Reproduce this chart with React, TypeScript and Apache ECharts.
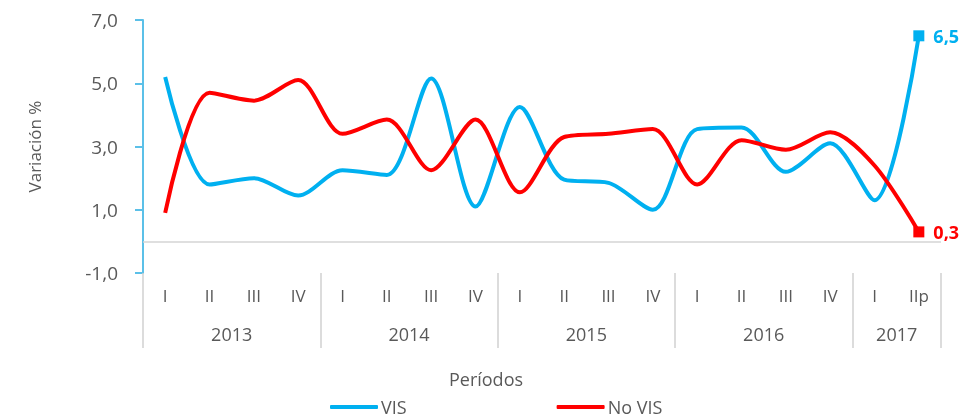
import React, { useEffect, useRef } from "react";
import * as echarts from "echarts";

const quarters = ["I", "II", "III", "IV", "I", "II", "III", "IV", "I", "II", "III", "IV", "I", "II", "III", "IV", "I", "IIp"];
const years = ["2013", "2014", "2015", "2016", "2017"];
const quartersPerYear = [4, 4, 4, 4, 2];
const yTicks = [-1, 1, 3, 5, 7];
const visValues = [5.2, 1.8, 2.0, 1.45, 2.25, 2.1, 5.15, 1.1, 4.25, 1.95, 1.85, 1.0, 3.55, 3.6, 2.2, 3.1, 1.3, 6.5];
const noVisValues = [0.9, 4.7, 4.45, 5.1, 3.4, 3.85, 2.25, 3.85, 1.55, 3.3, 3.4, 3.55, 1.8, 3.2, 2.9, 3.45, 2.4, 0.3];

const FONT = "Open Sans";
const TEXT = "#595959";
const BLUE = "#00B0F0";
const RED = "#FF0000";

function fmt(v: number) {
  return v.toFixed(1).replace(".", ",");
}

function withEndMarker(values: number[], color: string) {
  return values.map((v, i) =>
    i === values.length - 1
      ? {
          value: v,
          symbol: "rect",
          symbolSize: 11,
          itemStyle: { color },
          label: {
            show: true,
            position: "right",
            distance: 9,
            formatter: () => fmt(v),
            color,
            fontFamily: FONT,
            fontWeight: "bold",
            fontSize: 18,
          },
        }
      : v
  );
}

export default function App() {
  const ref = useRef<HTMLDivElement>(null);
  useEffect(() => {
    if (!ref.current) return;
    const chart = echarts.init(ref.current, null, { renderer: "svg" });
    const bounds: number[] = [0];
    const centers: number[] = [];
    quartersPerYear.forEach((n) => {
      const start = bounds[bounds.length - 1];
      centers.push(start + n / 2);
      bounds.push(start + n);
    });
    const total = bounds[bounds.length - 1];
    chart.setOption({
      animation: false,
      textStyle: { fontFamily: FONT },
      grid: { left: 143, right: 28, top: 20, bottom: 146, containLabel: false },
      graphic: [
        {
          type: "text",
          x: 486,
          y: 379,
          style: {
            text: "Períodos",
            fill: TEXT,
            font: `18px "${FONT}"`,
            align: "center",
            verticalAlign: "middle",
          },
        },
      ],
      legend: {
        left: 330,
        top: 398,
        padding: 0,
        itemWidth: 48,
        itemHeight: 4,
        itemGap: 150,
        icon: "roundRect",
        textStyle: { color: TEXT, fontSize: 18, lineHeight: 18, fontFamily: FONT, padding: [0, 0, 0, -2] },
        data: ["VIS", "No VIS"],
      },
      xAxis: [
        {
          type: "category",
          data: quarters,
          boundaryGap: true,
          axisLine: { show: false },
          axisTick: { show: false },
          axisLabel: { color: TEXT, fontSize: 17, fontFamily: FONT, margin: 14, interval: 0 },
          splitLine: { show: false },
        },
        {
          type: "value",
          min: 0,
          max: total,
          position: "bottom",
          axisLine: { show: false },
          splitLine: { show: false },
          axisTick: {
            show: true,
            length: 75,
            customValues: bounds,
            lineStyle: { color: "#d0d0d0", width: 1.5 },
          },
          axisLabel: {
            show: true,
            customValues: centers,
            margin: 52,
            color: TEXT,
            fontSize: 18,
            fontFamily: FONT,
            formatter: (v: number) => {
              const idx = centers.findIndex((c) => Math.abs(c - v) < 1e-6);
              return idx >= 0 ? years[idx] : "";
            },
          },
        },
      ],
      yAxis: {
        type: "value",
        min: -1,
        max: 7,
        name: "Variación %",
        nameLocation: "middle",
        nameGap: 100,
        nameTextStyle: { color: TEXT, fontSize: 17, fontFamily: FONT },
        axisLine: { show: true, lineStyle: { color: "#5BC0E8", width: 2 } },
        axisTick: { show: true, length: 8, customValues: yTicks, lineStyle: { color: "#5BC0E8", width: 2 } },
        axisLabel: {
          customValues: yTicks,
          color: TEXT,
          fontSize: 19,
          fontFamily: FONT,
          margin: 25,
          formatter: (v: number) => fmt(v),
        },
        splitLine: { show: false },
      },
      series: [
        {
          name: "VIS",
          type: "line",
          smooth: 0.3,
          symbol: "none",
          data: withEndMarker(visValues, BLUE),
          lineStyle: { color: BLUE, width: 4 },
          itemStyle: { color: BLUE },
          z: 3,
          markLine: {
            silent: true,
            symbol: ["none", "none"],
            label: { show: false },
            lineStyle: { color: "#d4d4d4", width: 1.5, type: "solid" },
            data: [{ yAxis: 0 }],
            z: 1,
          },
        },
        {
          name: "No VIS",
          type: "line",
          smooth: 0.3,
          symbol: "none",
          data: withEndMarker(noVisValues, RED),
          lineStyle: { color: RED, width: 4 },
          itemStyle: { color: RED },
          z: 4,
        },
      ],
    });
    return () => chart.dispose();
  }, []);
  return <div ref={ref} style={{ position: "fixed", left: 0, top: 0, width: 969, height: 419 }} />;
}
